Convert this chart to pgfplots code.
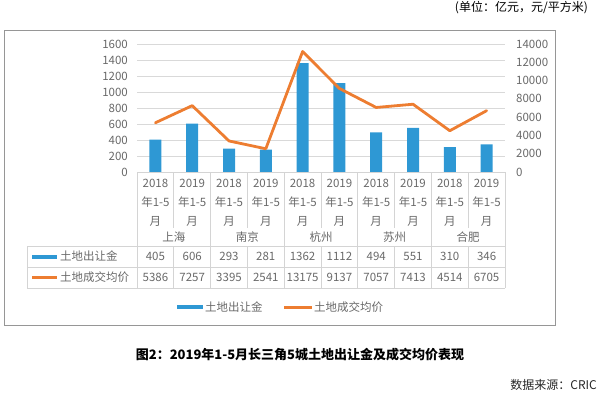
\documentclass[border=0pt]{standalone}
\usepackage{pgfplots}
\pgfplotsset{compat=1.18}
\usepackage{fontspec}
\setmainfont{Noto Sans CJK SC}
\definecolor{barblue}{RGB}{46,152,212}
\definecolor{lineorange}{RGB}{237,125,49}
\definecolor{txtgray}{RGB}{105,105,105}
\definecolor{gridgray}{RGB}{217,217,217}
\definecolor{tablegray}{RGB}{212,212,212}
\definecolor{framegray}{RGB}{150,150,150}
\newcommand{\chartfont}{\fontsize{11.5bp}{14bp}\selectfont}
\begin{document}
\begin{tikzpicture}[x=1bp,y=1bp]
\useasboundingbox (0,0) rectangle (600,393);
\draw[framegray, line width=1bp] (4,68) rectangle (555,363);
\begin{axis}[
  at={(137bp,221bp)}, anchor=south west,
  scale only axis, width=368bp, height=128bp,
  xmin=-0.5, xmax=9.5, ymin=0, ymax=1600,
  ytick={0,200,...,1600}, xtick=\empty,
  axis x line*=bottom, axis y line*=left,
  axis line style={draw=none},
  major tick length=0pt,
  ymajorgrids, grid style={gridgray, line width=0.8bp},
  yticklabel style={font=\chartfont, text=txtgray, inner sep=0pt, xshift=-9bp},
  /pgf/number format/.cd, 1000 sep={}, assume math mode=true,
]
\addplot[ybar, bar width=12bp, fill=barblue, draw=none] coordinates {
(0,405) (1,606) (2,293) (3,281) (4,1362) (5,1112) (6,494) (7,551) (8,310) (9,346)};
\end{axis}
\begin{axis}[
  at={(137bp,221bp)}, anchor=south west,
  scale only axis, width=368bp, height=128bp,
  xmin=-0.5, xmax=9.5, ymin=0, ymax=14000,
  ytick={0,2000,...,14000}, xtick=\empty,
  axis x line=none, axis y line*=right,
  axis line style={draw=none},
  major tick length=0pt, scaled y ticks=false,
  yticklabel style={font=\chartfont, text=txtgray, inner sep=0pt, xshift=11bp},
  /pgf/number format/.cd, 1000 sep={}, assume math mode=true,
]
\addplot[lineorange, line width=2.8bp, mark=none, line join=round, line cap=round] coordinates {
(0,5386) (1,7257) (2,3395) (3,2541) (4,13175) (5,9137) (6,7057) (7,7413) (8,4514) (9,6705)};
\end{axis}
% category axis + table grid
\draw[tablegray, line width=0.8bp] (137,221) -- (505,221);
\foreach \i in {0,...,10}{
  \pgfmathsetmacro\xx{137+36.8*\i}
  \ifodd\i
    \draw[tablegray, line width=0.8bp] (\xx,221) -- (\xx,165);
    \draw[tablegray, line width=0.8bp] (\xx,147) -- (\xx,105);
  \else
    \draw[tablegray, line width=0.8bp] (\xx,221) -- (\xx,105);
  \fi
}
\foreach \yy in {147,126,105}{\draw[tablegray, line width=0.8bp] (27,\yy) -- (505,\yy);}
\draw[tablegray, line width=0.8bp] (27,147) -- (27,105);
% category labels
\foreach \i in {0,...,9}{
  \pgfmathtruncatemacro\yr{2018+mod(\i,2)}
  \pgfmathsetmacro\xx{155.4+36.8*\i}
  \node[font=\chartfont, text=txtgray] at (\xx,210) {\yr};
  \node[font=\chartfont, text=txtgray] at (\xx,191) {年1-5};
  \node[font=\chartfont, text=txtgray] at (\xx,172) {月};
}
\foreach \c [count=\k from 0] in {上海,南京,杭州,苏州,合肥}{
  \node[font=\chartfont, text=txtgray] at ({173.8+73.6*\k},156) {\c};
}
% table values
\foreach \v [count=\i from 0] in {405,606,293,281,1362,1112,494,551,310,346}{
  \node[font=\chartfont, text=txtgray] at ({155.4+36.8*\i},136.5) {\v};
}
\foreach \v [count=\i from 0] in {5386,7257,3395,2541,13175,9137,7057,7413,4514,6705}{
  \node[font=\chartfont, text=txtgray] at ({155.4+36.8*\i},115.5) {\v};
}
\draw[barblue, line width=4bp] (32,136.5) -- (57,136.5);
\node[font=\chartfont, text=txtgray, anchor=west, inner sep=0pt] at (60,136.5) {土地出让金};
\draw[lineorange, line width=3bp] (32,115.5) -- (57,115.5);
\node[font=\chartfont, text=txtgray, anchor=west, inner sep=0pt] at (60,115.5) {土地成交均价};
% legend
\fill[barblue] (177,84) rectangle (203,88.5);
\node[font=\chartfont, text=txtgray, anchor=west, inner sep=0pt] at (205,86) {土地出让金};
\draw[lineorange, line width=3bp] (284,86) -- (312,86);
\node[font=\chartfont, text=txtgray, anchor=west, inner sep=0pt] at (314,86) {土地成交均价};
% texts
\node[font=\fontsize{12bp}{14bp}\selectfont, anchor=east, inner sep=0pt] at (588,385) {(单位：亿元，元/平方米)};
\node[font=\fontsize{13bp}{15bp}\selectfont\bfseries, inner sep=0pt] at (300,38) {图2：2019年1-5月长三角5城土地出让金及成交均价表现};
\node[font=\fontsize{12bp}{14bp}\selectfont, anchor=east, inner sep=0pt, text=black!85] at (597,8) {数据来源：CRIC};
\end{tikzpicture}
\end{document}
